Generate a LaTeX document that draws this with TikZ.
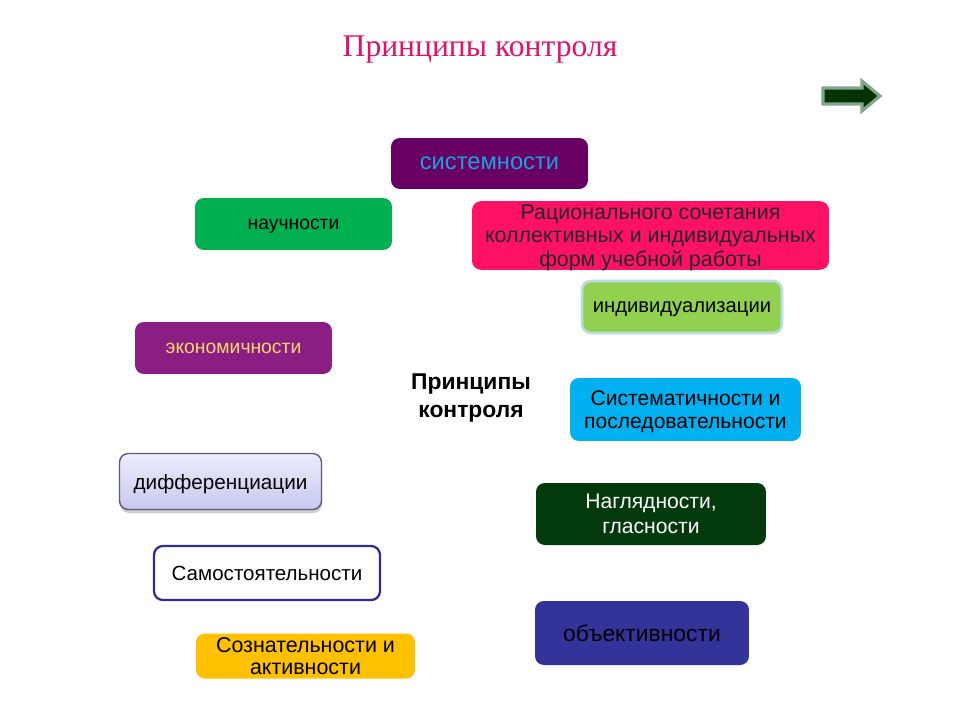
\documentclass[tikz,border=0pt]{standalone}
\usepackage{fontspec}
\setmainfont{Liberation Sans}
\newfontfamily\titlefont{Liberation Serif}
\usetikzlibrary{shadows}
\definecolor{cPurpleDark}{RGB}{104,0,100}
\definecolor{cSkyText}{RGB}{30,160,220}
\definecolor{cGreen}{RGB}{0,176,80}
\definecolor{cPink}{RGB}{255,18,102}
\definecolor{cLime}{RGB}{146,208,80}
\definecolor{cLimeBorder}{RGB}{185,220,230}
\definecolor{cPurple}{RGB}{138,30,130}
\definecolor{cYellowText}{RGB}{255,214,110}
\definecolor{cCyan}{RGB}{0,176,240}
\definecolor{cLavTop}{RGB}{236,236,252}
\definecolor{cLavBot}{RGB}{200,200,240}
\definecolor{cLavBorder}{RGB}{90,90,125}
\definecolor{cDarkGreen}{RGB}{2,58,12}
\definecolor{cNavyBorder}{RGB}{46,46,143}
\definecolor{cIndigo}{RGB}{51,51,153}
\definecolor{cAmber}{RGB}{255,192,0}
\definecolor{cTitle}{RGB}{222,20,105}
\definecolor{cArrowFill}{RGB}{0,51,0}
\definecolor{cArrowBorder}{RGB}{130,165,145}
\tikzset{
  box/.style={rounded corners=5pt, align=center, inner sep=2pt, text depth=0pt},
}
\begin{document}
\begin{tikzpicture}[x=0.02cm,y=-0.02cm]
\useasboundingbox (0,0) rectangle (960,720);
% title
\node[text=cTitle, font=\titlefont\fontsize{18}{22}\selectfont] (title) at (480,50) {Принципы контроля};
% arrow
\draw[fill=cArrowFill, draw=cArrowBorder, line width=1.8pt, line join=miter]
  (823,88) -- (862,88) -- (862,81) -- (880,96) -- (862,111) -- (862,104) -- (823,104) -- cycle;
% boxes
\node[box, fill=cPurpleDark, text=cSkyText, minimum width=3.94cm, minimum height=1.02cm, font=\fontsize{13.5}{16}\selectfont] (sys) at (489.5,163.5) {системности};
\node[box, fill=cGreen, text=black, minimum width=3.94cm, minimum height=1.04cm, font=\fontsize{11}{13}\selectfont] (nauch) at (293.5,224) {научности};
\node[box, fill=cPink, text=black!85, minimum width=7.14cm, minimum height=1.34cm, font=\fontsize{12.2}{13.3}\selectfont] (rac) at (650.5,235.5) {Рационального сочетания\\коллективных и индивидуальных\\форм учебной работы};
\node[box, fill=cLime, draw=cLimeBorder, line width=1.5pt, text=black, minimum width=4.0cm, minimum height=1.04cm, font=\fontsize{11.5}{13}\selectfont] (ind) at (682,307) {индивидуализации};
\node[box, fill=cPurple, text=cYellowText, minimum width=3.94cm, minimum height=1.04cm, font=\fontsize{11}{12}\selectfont] (econ) at (233.5,348) {экономичности};
\node[align=center, font=\bfseries\fontsize{13}{16}\selectfont] (center) at (471,398) {Принципы\\контроля};
\node[box, fill=cCyan, text=black, minimum width=4.62cm, minimum height=1.26cm, font=\fontsize{12}{13}\selectfont] (sistem) at (685.5,409.5) {Систематичности и\\последовательности};
\node[box, top color=cLavTop, bottom color=cLavBot, draw=cLavBorder, line width=0.8pt, drop shadow={shadow xshift=0.3pt, shadow yshift=-2pt, opacity=0.4}, text=black, minimum width=4.04cm, minimum height=1.12cm, font=\fontsize{11.8}{13}\selectfont] (diff) at (220.5,481.5) {дифференциации};
\node[box, fill=cDarkGreen, text=white, minimum width=4.6cm, minimum height=1.24cm, font=\fontsize{12}{14}\selectfont] (nagl) at (651,514) {Наглядности,\\гласности};
\node[box, fill=white, draw=cNavyBorder, line width=1.3pt, text=black, minimum width=4.52cm, minimum height=1.08cm, font=\fontsize{11.7}{13}\selectfont] (samo) at (267,573) {Самостоятельности};
\node[box, fill=cIndigo, text=black, minimum width=4.28cm, minimum height=1.28cm, font=\fontsize{13}{14}\selectfont] (obj) at (642,633) {объективности};
\node[box, fill=cAmber, text=black, minimum width=4.38cm, minimum height=0.9cm, font=\fontsize{12.2}{12.8}\selectfont] (soz) at (305.5,656) {Сознательности и\\активности};
\end{tikzpicture}
\end{document}
